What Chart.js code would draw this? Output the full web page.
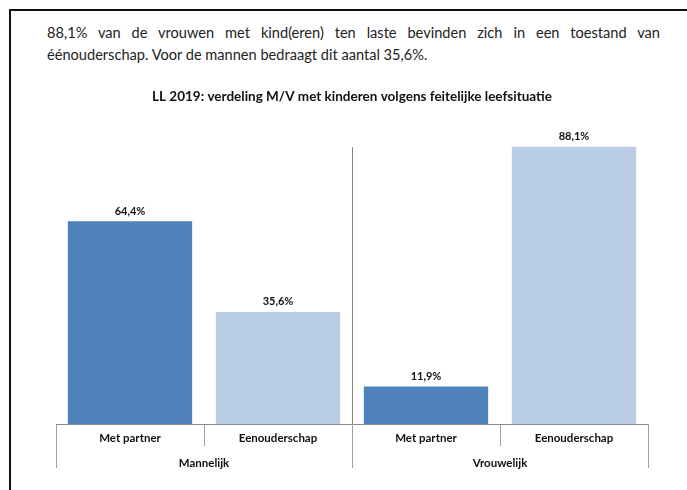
<!DOCTYPE html>
<html>
<head>
<meta charset="utf-8">
<script src="https://cdn.jsdelivr.net/npm/chart.js@4.4.1/dist/chart.umd.min.js"></script>
<style>
  html, body { margin: 0; padding: 0; background: #fff; }
  body { width: 687px; height: 490px; position: relative; overflow: hidden; font-family: Lato, "Open Sans", sans-serif; }
  #frame { position: absolute; left: 9px; top: 9px; width: 700px; height: 500px; border-top: 2px solid #111; border-left: 2px solid #111; }
  #txt1 { position: absolute; left: 47px; top: 22px; width: 613px; font-size: 14.6px; line-height: 22px; color: #222; text-align: justify; text-align-last: justify; white-space: nowrap; }
  #txt2 { position: absolute; left: 47px; top: 44px; font-size: 14.6px; line-height: 22px; color: #222; white-space: nowrap; }
  canvas { position: absolute; left: 0; top: 0; }
</style>
</head>
<body>
<div id="frame"></div>
<div id="txt1">88,1% van de vrouwen met kind(eren) ten laste bevinden zich in een toestand van</div>
<div id="txt2">éénouderschap. Voor de mannen bedraagt dit aantal 35,6%.</div>
<canvas id="c" width="687" height="490"></canvas>
<script>
const chartTitle = 'LL 2019: verdeling M/V met kinderen volgens feitelijke leefsituatie';
const subCategories = ['Met partner', 'Eenouderschap', 'Met partner', 'Eenouderschap'];
const groups = ['Mannelijk', 'Vrouwelijk'];
const values = [64.4, 35.6, 11.9, 88.1];
const barColors = ['#4F81BD', '#B9CDE5', '#4F81BD', '#B9CDE5'];

const fmt = v => v.toFixed(1).replace('.', ',') + '%';

const valueLabels = {
  id: 'valueLabels',
  afterDatasetsDraw(chart) {
    const ctx = chart.ctx;
    const meta = chart.getDatasetMeta(0);
    ctx.save();
    ctx.font = 'bold 11px Lato, sans-serif';
    ctx.fillStyle = '#111';
    ctx.textAlign = 'center';
    ctx.textBaseline = 'middle';
    meta.data.forEach((bar, i) => {
      ctx.fillText(fmt(values[i]), bar.x, bar.y - 10);
    });
    ctx.restore();
  }
};

const groupDivider = {
  id: 'groupDivider',
  afterDatasetsDraw(chart) {
    const x = chart.scales.x;
    const area = chart.chartArea;
    const per = subCategories.length / groups.length;
    const ctx = chart.ctx;
    ctx.save();
    ctx.strokeStyle = '#8a8378';
    ctx.lineWidth = 1;
    for (let g = 1; g < groups.length; g++) {
      const px = Math.round((x.getPixelForValue(g * per - 1) + x.getPixelForValue(g * per)) / 2) + 0.5;
      ctx.beginPath();
      ctx.moveTo(px, area.top + 38);
      ctx.lineTo(px, area.bottom);
      ctx.stroke();
    }
    ctx.restore();
  }
};

new Chart(document.getElementById('c'), {
  type: 'bar',
  data: {
    labels: subCategories,
    datasets: [{
      data: values,
      backgroundColor: barColors,
      borderWidth: 0,
      barPercentage: 0.84,
      categoryPercentage: 1
    }]
  },
  options: {
    responsive: false,
    animation: false,
    devicePixelRatio: 1,
    layout: { padding: { top: 89, left: 56, right: 39, bottom: 20 } },
    plugins: {
      legend: { display: false },
      tooltip: { enabled: false },
      title: {
        display: true,
        text: chartTitle,
        color: '#111',
        font: { family: 'Lato, sans-serif', size: 13.5, weight: 'bold', lineHeight: 1.2 },
        padding: { top: 0, bottom: 4 }
      }
    },
    scales: {
      y: { display: false, min: 0, max: 100 },
      x: {
        position: 'bottom',
        offset: true,
        afterFit: s => { s.height = 22; },
        border: { display: true, color: '#8c8c8c', width: 1 },
        grid: { offset: true, drawOnChartArea: false, drawTicks: true, tickLength: 22, tickColor: '#a0a0a0' },
        ticks: { autoSkip: false, maxRotation: 0, padding: -15, color: '#111', font: { family: 'Lato, sans-serif', size: 11.5, weight: 'bold' } }
      },
      x2: {
        type: 'category',
        labels: groups,
        position: 'bottom',
        offset: true,
        afterFit: s => { s.height = 24; },
        border: { display: false },
        grid: { offset: true, drawOnChartArea: false, drawTicks: true, tickLength: 22, tickColor: '#a0a0a0' },
        ticks: { autoSkip: false, maxRotation: 0, padding: -12, color: '#111', font: { family: 'Lato, sans-serif', size: 11.5, weight: 'bold' } }
      }
    }
  },
  plugins: [valueLabels, groupDivider]
});
</script>
</body>
</html>
